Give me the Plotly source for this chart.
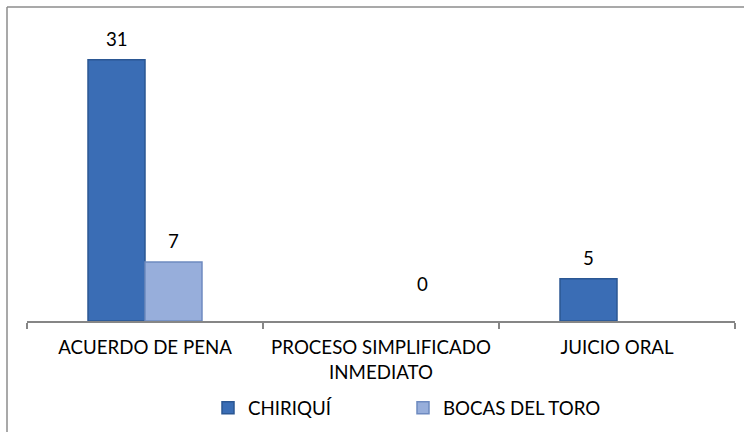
import plotly.graph_objects as go

categories = ["ACUERDO DE PENA", "PROCESO SIMPLIFICADO<br>INMEDIATO", "JUICIO ORAL"]
chiriqui = [31, 0, 5]
bocas = [7, 0, 0]
chiriqui_labels = ["31", "", "5"]
bocas_labels = ["7", "0", ""]
series_names = ["CHIRIQUÍ", "BOCAS DEL TORO"]

W, H = 744, 432
ML, MR, MT, MB = 27, 9, 26, 111
PW, PH = W - ML - MR, H - MT - MB
YMAX = 35
FONT = "Lato, Carlito, Calibri, sans-serif"
FS = 18.7

fig = go.Figure()
fig.add_trace(go.Bar(
    x=categories, y=chiriqui, name=series_names[0], legend="legend",
    marker=dict(color="#3A6DB5",
                line=dict(color="#2B5793", width=[1.5 if v > 0 else 0 for v in chiriqui])),
))
fig.add_trace(go.Bar(
    x=categories, y=bocas, name=series_names[1], legend="legend2",
    marker=dict(color="#97AEDB",
                line=dict(color="#6E8AC0", width=[1.5 if v > 0 else 0 for v in bocas])),
))

bar_w = PW / len(categories) * (1 - 0.517) / 2
annotations = []
for vals, labs, side in ((chiriqui, chiriqui_labels, -1), (bocas, bocas_labels, 1)):
    for cat, v, lab in zip(categories, vals, labs):
        if not lab:
            continue
        extra = 16 if v == 0 else 0
        xs = side * bar_w / 2 + (13 if v == 0 else 0)
        annotations.append(dict(
            x=cat, y=v, xref="x", yref="y", text=lab, showarrow=False,
            xshift=xs, yshift=21 + extra, yanchor="middle",
            font=dict(family=FONT, size=FS, color="#000000"),
        ))

legend_common = dict(
    orientation="h", xref="container", yref="container",
    xanchor="left", yanchor="middle", y=1 - 408 / H,
    font=dict(family=FONT, size=FS, color="#000000"),
    itemclick=False, itemdoubleclick=False, bgcolor="rgba(0,0,0,0)",
)

fig.update_layout(
    width=W, height=H,
    margin=dict(l=ML, r=MR, t=MT, b=MB, autoexpand=False),
    paper_bgcolor="white", plot_bgcolor="white",
    barmode="group", bargap=0.517, bargroupgap=0,
    font=dict(family=FONT, size=FS, color="#000000"),
    annotations=annotations,
    showlegend=True,
    legend=dict(legend_common, x=208 / W),
    legend2=dict(legend_common, x=403 / W),
    shapes=[
        dict(type="line", xref="paper", yref="paper",
             x0=(7 - ML) / PW, x1=(760 - ML) / PW,
             y0=(MT + PH - 7) / PH, y1=(MT + PH - 7) / PH,
             line=dict(color="#8C8C8C", width=1.5)),
        dict(type="line", xref="paper", yref="paper",
             x0=(7 - ML) / PW, x1=(7 - ML) / PW,
             y0=(MT + PH - 7) / PH, y1=-(H + 20 - MT - PH) / PH,
             line=dict(color="#8C8C8C", width=1.5)),
    ],
)
fig.update_xaxes(
    showline=True, linecolor="#868686", linewidth=2, automargin=False,
    ticks="outside", tickson="boundaries", ticklen=6, tickcolor="#868686", tickwidth=2,
    ticklabelstandoff=9,
    showgrid=False, tickfont=dict(family=FONT, size=FS, color="#000000"),
)
fig.update_yaxes(range=[0, YMAX], visible=False, showgrid=False, zeroline=False, automargin=False)

fig.write_html(
    "out.html",
    config={"displayModeBar": False},
    post_script="document.body.style.margin='0';document.body.style.overflow='hidden';",
)
